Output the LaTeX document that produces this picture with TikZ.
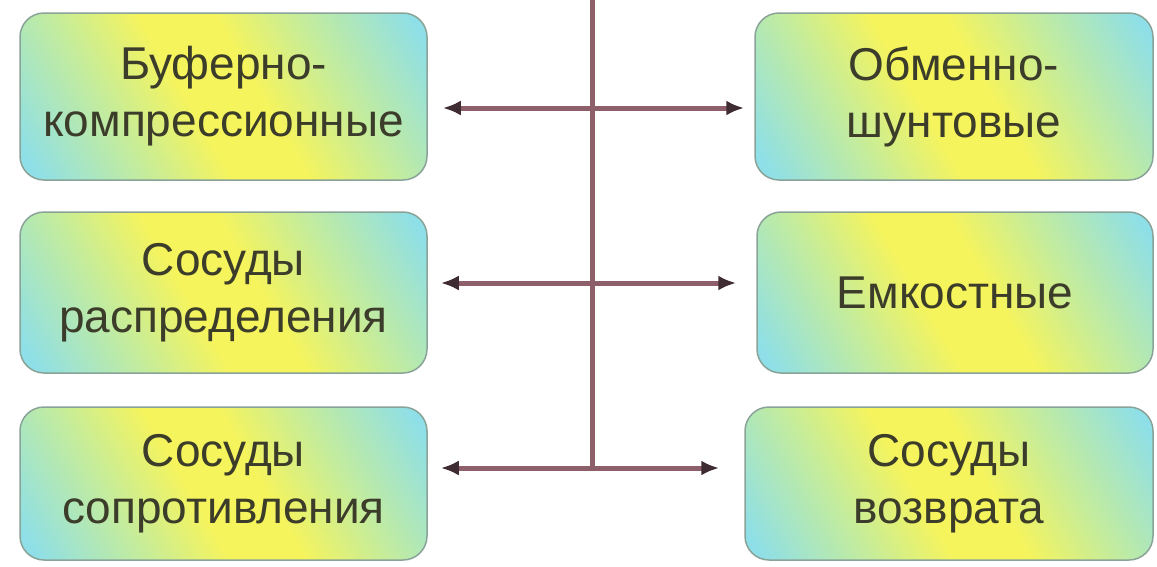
\documentclass[tikz,border=0pt]{standalone}
\usepackage{fontspec}
\setmainfont{Liberation Sans}
\usetikzlibrary{arrows.meta, calc}

\definecolor{boxcyan}{HTML}{8EDFE8}
\definecolor{boxgreen}{HTML}{C4EC9C}
\definecolor{boxyellow}{HTML}{F6F45C}
\definecolor{boxline}{HTML}{8AA398}
\definecolor{linkred}{HTML}{8C5F6B}
\definecolor{tipdark}{HTML}{3E2C32}
\definecolor{txt}{HTML}{3C3C2A}

\pgfdeclarehorizontalshading{vesselshade}{100bp}{%
  color(0bp)=(boxcyan); color(18bp)=(boxcyan); color(33bp)=(boxgreen);
  color(45bp)=(boxyellow); color(55bp)=(boxyellow); color(67bp)=(boxgreen);
  color(82bp)=(boxcyan); color(100bp)=(boxcyan)}

\begin{document}
\begin{tikzpicture}[x=1pt, y=-1pt,
  vessel/.style={draw=boxline, line width=1.5pt, rounded corners=24pt,
    shading=vesselshade, shading angle=30, align=center, text=txt,
    font=\fontsize{46}{57}\selectfont, inner sep=0pt},
  link/.style={line width=5pt, draw=linkred,
    -{Latex[length=18pt, width=15pt, color=tipdark]}},
]
  \useasboundingbox (0,0) rectangle (1157,566);
  % left column
  \node[vessel, minimum width=407pt, minimum height=167pt] (buf)   at (223.5,96.5) {Буферно-\\компрессионные};
  \node[vessel, minimum width=407pt, minimum height=161pt] (raspr) at (223.5,292.5) {Сосуды\\распределения};
  \node[vessel, minimum width=407pt, minimum height=153pt] (sopr)  at (223.5,483.5) {Сосуды\\сопротивления};
  % right column
  \node[vessel, minimum width=398pt, minimum height=167pt] (obm)   at (954,96.5) {Обменно-\\шунтовые};
  \node[vessel, minimum width=396pt, minimum height=161pt] (emk)   at (955,292.5) {Емкостные};
  \node[vessel, minimum width=408pt, minimum height=153pt] (vozvr) at (949,483.5) {Сосуды\\возврата};

  \coordinate (top) at (592,0);
  \coordinate (h1) at (592,108);
  \coordinate (h2) at (592,283);
  \coordinate (h3) at (592,468);
  \draw[line width=5pt, draw=linkred] (top) -- (h3);

  \draw[link, shorten >=15pt] (h1) -- (h1 -| buf.east);
  \draw[link, shorten >=10pt] (h1) -- (h1 -| obm.west);
  \draw[link, shorten >=13pt] (h2) -- (h2 -| raspr.east);
  \draw[link, shorten >=20pt] (h2) -- (h2 -| emk.west);
  \draw[link, shorten >=13pt] (h3) -- (h3 -| sopr.east);
  \draw[link, shorten >=25pt] (h3) -- (h3 -| vozvr.west);
\end{tikzpicture}
\end{document}
